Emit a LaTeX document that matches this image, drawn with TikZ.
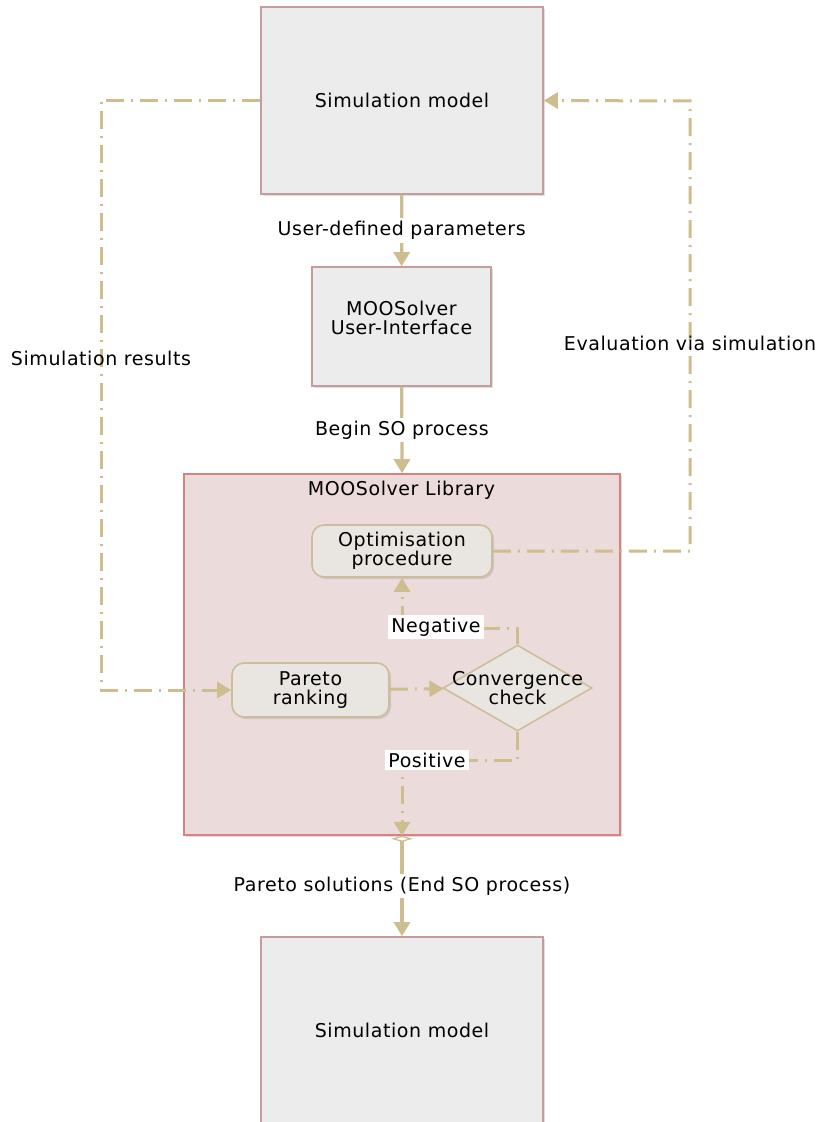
\documentclass[tikz,border=0pt]{standalone}
\usepackage{fontspec}
\setmainfont{DejaVu Sans}[LetterSpace=3]
\usetikzlibrary{arrows.meta,shapes.geometric,shadows}
\definecolor{flowtan}{RGB}{206,190,143}
\definecolor{boxgray}{RGB}{236,236,236}
\definecolor{boxrose}{RGB}{196,158,158}
\definecolor{libfill}{RGB}{236,219,219}
\definecolor{librose}{RGB}{217,128,128}
\definecolor{procfill}{RGB}{233,229,224}
\definecolor{proctan}{RGB}{204,190,155}
\tikzset{
	every node/.style={font=\fontsize{9.5}{9.5}\selectfont},
	simbox/.style={draw=boxrose, fill=boxgray, line width=0.8pt, align=center,
		drop shadow={opacity=0.25, shadow xshift=1pt, shadow yshift=-1pt}},
	libbox/.style={draw=librose, fill=libfill, line width=0.8pt,
		drop shadow={opacity=0.25, shadow xshift=1pt, shadow yshift=-1pt}},
	procbox/.style={draw=proctan, fill=procfill, line width=0.8pt, rounded corners=6pt, align=center,
		drop shadow={opacity=0.25, shadow xshift=1pt, shadow yshift=-1pt}},
	decision/.style={diamond, draw=proctan, fill=procfill, line width=0.8pt, inner sep=0pt,
		minimum width=74.5pt, minimum height=43pt},
	flow/.style={draw=flowtan, line width=1.6pt, -{Triangle[width=8pt,length=7pt]}},
	feedback/.style={draw=flowtan, line width=1.5pt, dash pattern=on 9pt off 3.5pt on 1pt off 3.5pt,
		-{Triangle[width=8pt,length=7pt]}},
	lbl/.style={fill=white, inner sep=1.5pt},
}
\begin{document}
\begin{tikzpicture}[x=0.5pt,y=-0.5pt]
	\useasboundingbox (0,0) rectangle (818,1122);
	% boxes
	\node[simbox, minimum width=141pt, minimum height=93.5pt] (simtop) at (402,100.5) {Simulation model};
	\node[simbox, minimum width=89.5pt, minimum height=59.5pt] (ui) at (401.5,326.5) {};
	\node[align=center] (uitext) at ([yshift=4.5pt]ui.center) {MOOSolver\\User-Interface};
	\node[libbox, minimum width=218pt, minimum height=180.5pt] (lib) at (402,654.5) {};
	\node (libtitle) at (401.5,490) {MOOSolver Library};
	\node[procbox, minimum width=90pt, minimum height=26pt] (opt) at (402,551) {Optimisation\\procedure};
	\node[procbox, minimum width=78.5pt, minimum height=27pt] (pareto) at (310.5,690) {Pareto\\ranking};
	\node[decision] (conv) at (517.5,688) {};
	\node[align=center] (convtext) at (conv) {Convergence\\check};
	\node[simbox, minimum width=141pt, minimum height=93.5pt] (simbot) at (402,1030.5) {Simulation model};
	% corners of the dash-dot paths
	\path (101,690) coordinate (lcorner);
	\path (690,101) coordinate (rcorner);
	\path (402,628) coordinate (negcorner);
	\path (402,760) coordinate (poscorner);
	% main flow
	\draw[flow] (simtop) -- node[lbl] (udp) {User-defined parameters} (ui);
	\draw[flow] (ui) -- node[lbl] (begin) {Begin SO process} (lib.north);
	\draw[flow, {Diamond[fill=white,width=11pt,length=3pt,line width=0.6pt]}-{Triangle[width=8pt,length=7pt]}]
		(lib.south) -- node[lbl] (sols) {Pareto solutions (End SO process)} (simbot);
	% loops
	\draw[feedback] (simtop.west) -| (lcorner) -- (pareto.west);
	\draw[feedback] (opt.east) -| (rcorner) -- (simtop.east);
	\draw[feedback] (pareto) -- (conv);
	\draw[feedback] (conv.north) |- (negcorner) -- (opt.south);
	\draw[feedback] (conv.south) |- (poscorner) -- (lib.south);
	\node (simres) at (101,358) {Simulation results};
	\node (evalsim) at (690,343) {Evaluation via simulation};
	\node[lbl] (neg) at (436,627) {Negative};
	\node[lbl] (pos) at (427,760) {Positive};
\end{tikzpicture}
\end{document}
